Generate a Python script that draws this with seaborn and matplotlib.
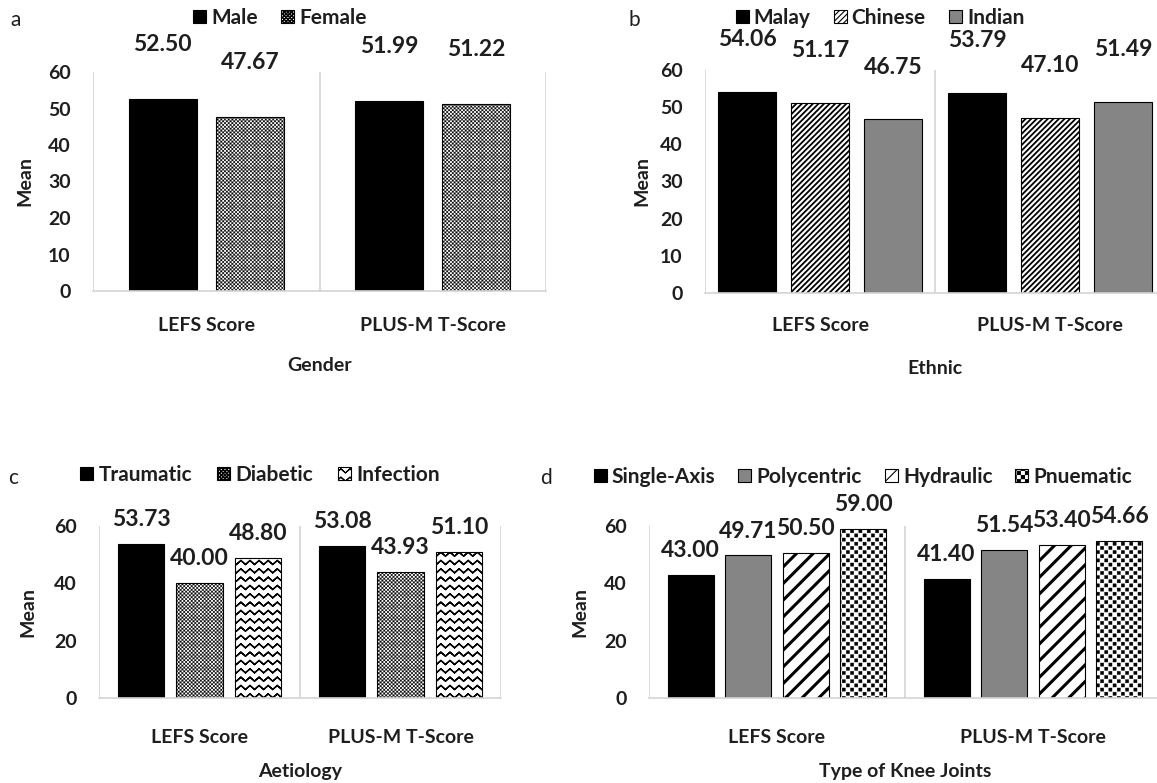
import warnings
import numpy as np
import pandas as pd
import matplotlib
matplotlib.use('Agg')
import matplotlib.pyplot as plt
import matplotlib.hatch as mhatch
from matplotlib.font_manager import FontProperties
from matplotlib.path import Path
import seaborn as sns

warnings.filterwarnings('ignore')

# Data
measures = ['LEFS Score', 'PLUS-M T-Score']

gender_groups = ['Male', 'Female']
gender_lefs = [52.50, 47.67]
gender_plusm = [51.99, 51.22]

ethnic_groups = ['Malay', 'Chinese', 'Indian']
ethnic_lefs = [54.06, 51.17, 46.75]
ethnic_plusm = [53.79, 47.10, 51.49]

aetiology_groups = ['Traumatic', 'Diabetic', 'Infection']
aetiology_lefs = [53.73, 40.00, 48.80]
aetiology_plusm = [53.08, 43.93, 51.10]

knee_groups = ['Single-Axis', 'Polycentric', 'Hydraulic', 'Pnuematic']
knee_lefs = [43.00, 49.71, 50.50, 59.00]
knee_plusm = [41.40, 51.54, 53.40, 54.66]


# Custom hatch patterns: 'z' = zigzag rows, 'k' = checkerboard
class ZigzagHatch(mhatch.HatchPatternBase):
    def __init__(self, hatch, density):
        self.num_rows = int(hatch.count('z') * density)
        self.teeth = max(1, int(round(self.num_rows * 0.9)))
        self.npts = 2 * self.teeth + 1
        # each row is traced forward and back so the filled area is zero
        self.num_vertices = self.num_rows * self.npts * 2

    def set_vertices_and_codes(self, vertices, codes):
        n = self.npts
        xs = np.linspace(0, 1, n)
        amp = 0.24 / self.num_rows
        offs = np.where(np.arange(n) % 2 == 0, -amp, amp)
        for i in range(self.num_rows):
            y = (i + 0.5) / self.num_rows
            row = np.column_stack([xs, y + offs])
            seg = np.vstack([row, row[::-1]])
            a = i * 2 * n
            vertices[a:a + 2 * n] = seg
            codes[a] = Path.MOVETO
            codes[a + 1:a + 2 * n] = Path.LINETO


class CheckerHatch(mhatch.HatchPatternBase):
    filled = True

    def __init__(self, hatch, density):
        self.n = int(hatch.count('k') * density)
        self.cells = [(i, j) for i in range(self.n) for j in range(self.n) if (i + j) % 2 == 0]
        self.num_vertices = len(self.cells) * 5

    def set_vertices_and_codes(self, vertices, codes):
        s = 1.0 / self.n
        sh = s * 0.12
        for k, (i, j) in enumerate(self.cells):
            x0, y0 = i * s + sh, j * s + sh
            x1, y1 = (i + 1) * s - sh, (j + 1) * s - sh
            vertices[k * 5:(k + 1) * 5] = [(x0, y0), (x1, y0), (x1, y1), (x0, y1), (x0, y0)]
            codes[k * 5:(k + 1) * 5] = [Path.MOVETO, Path.LINETO, Path.LINETO, Path.LINETO, Path.CLOSEPOLY]


mhatch._hatch_types.append(ZigzagHatch)
mhatch._hatch_types.append(CheckerHatch)

sns.set_style('white')
plt.rcParams['font.family'] = ['Lato', 'DejaVu Sans']
plt.rcParams['hatch.color'] = 'black'
plt.rcParams['hatch.linewidth'] = 0.8

TEXT = '#1e1e1e'
GRID = '#d4d4d4'
W, H = 1157, 783
value_font = FontProperties(family='Lato', weight='bold', size=16.5)

# (facecolor, hatch, hatch linewidth)
styles = {
    'Male': ('black', None, 0.8),
    'Female': ('white', 'kkkkkkkkk', 0.3),
    'Malay': ('black', None, 0.8),
    'Chinese': ('white', '//////', 1.3),
    'Indian': ('#858585', None, 0.8),
    'Traumatic': ('black', None, 0.8),
    'Diabetic': ('white', 'kkkkkkkkk', 0.3),
    'Infection': ('white', 'zz', 1.0),
    'Single-Axis': ('black', None, 0.8),
    'Polycentric': ('#858585', None, 0.8),
    'Hydraulic': ('white', '//', 2.2),
    'Pnuematic': ('white', 'kkkk', 0.3),
}

fig = plt.figure(figsize=(W / 100, H / 100), dpi=100)


def panel(box, letter, letter_xy, groups, lefs, plusm, xlabel, yticks, width, gap,
          label_pad, legend_xy, colspacing, ylabel_x, xlabel_y, tick_y):
    left, top, right, bottom = box
    ax = fig.add_axes([left / W, 1 - bottom / H, (right - left) / W, (bottom - top) / H])
    df = pd.DataFrame({
        'measure': measures * len(groups),
        'group': [g for g in groups for _ in measures],
        'mean': [v for pair in zip(lefs, plusm) for v in pair],
    })
    sns.barplot(data=df, x='measure', y='mean', hue='group', order=measures, hue_order=groups,
                palette=[styles[g][0] for g in groups], saturation=1, width=width, gap=gap,
                edgecolor='black', linewidth=0.8, legend=False, ax=ax)
    for cont, g in zip(ax.containers, groups):
        face, hatch, hlw = styles[g]
        for p in cont.patches:
            p.set_facecolor(face)
            p.set_edgecolor('black')
            if hatch:
                p.set_hatch(hatch)
                if hasattr(p, 'set_hatch_linewidth'):
                    p.set_hatch_linewidth(hlw)
        ax.bar_label(cont, fmt='%.2f', padding=label_pad, fontproperties=value_font, color=TEXT)

    ax.set_xlim(-0.5, 1.5)
    ax.set_ylim(0, 60)
    ax.set_yticks(yticks)
    for x in [-0.5, 0.5, 1.5]:
        ax.axvline(x, color=GRID, lw=1.2, zorder=0)
    for s in ['top', 'right', 'left']:
        ax.spines[s].set_visible(False)
    ax.spines['bottom'].set_color(GRID)
    ax.spines['bottom'].set_linewidth(1.2)
    ax.tick_params(axis='both', length=0, labelsize=14, labelcolor=TEXT)
    ax.tick_params(axis='y', pad=16)
    ax.tick_params(axis='x', pad=(tick_y - bottom) * 0.72 - 6)
    for t in ax.get_xticklabels() + ax.get_yticklabels():
        t.set_fontweight('bold')

    ax.set_xlabel(xlabel, fontsize=14, fontweight='bold', color=TEXT)
    ax.xaxis.set_label_coords(0.5, -(xlabel_y - bottom) / (bottom - top))
    ax.xaxis.label.set_va('center')
    ax.set_ylabel('Mean', fontsize=14, fontweight='bold', color=TEXT)
    ax.yaxis.set_label_coords((ylabel_x - left) / (right - left), 0.5)
    ax.yaxis.label.set_va('center')

    fig.text(letter_xy[0] / W, 1 - letter_xy[1] / H, letter, fontsize=15, color=TEXT,
             ha='left', va='center')
    fig.legend(handles=ax.containers, labels=groups, loc='center',
               bbox_to_anchor=(legend_xy[0] / W, 1 - legend_xy[1] / H), ncol=len(groups),
               frameon=False, handlelength=0.62, handleheight=0.62, handletextpad=0.25,
               columnspacing=colspacing, prop={'weight': 'bold', 'size': 15},
               labelcolor=TEXT)
    return ax


panel((93, 72, 546, 291), 'a', (10, 20), gender_groups, gender_lefs, gender_plusm,
      'Gender', [0, 10, 20, 30, 40, 50, 60], 0.77, 0.22, 32, (280, 18), 1.1, 25, 366, 325)
panel((705, 70, 1165, 293), 'b', (628, 20), ethnic_groups, ethnic_lefs, ethnic_plusm,
      'Ethnic', [0, 10, 20, 30, 40, 50, 60], 0.95, 0.2, 30, (880, 18), 1.1, 642, 368, 325)
panel((99, 526, 501, 698), 'c', (8, 478), aetiology_groups, aetiology_lefs, aetiology_plusm,
      'Aetiology', [0, 20, 40, 60], 0.87, 0.21, 10, (260, 475), 1.2, 28, 772, 737)
panel((649, 526, 1161, 698), 'd', (540, 478), knee_groups, knee_lefs, knee_plusm,
      'Type of Knee Joints', [0, 20, 40, 60], 0.9, 0.2, 10, (863, 477), 1.1, 580, 772, 737)

fig.savefig('out.png', dpi=100)
